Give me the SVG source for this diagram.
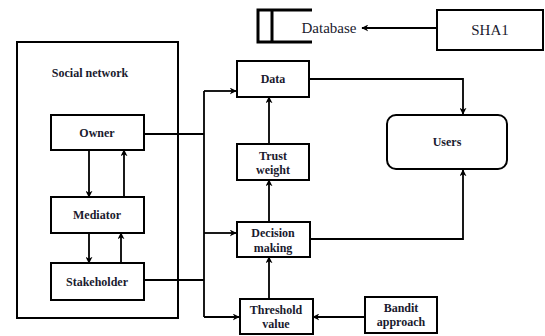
<svg xmlns="http://www.w3.org/2000/svg" width="545" height="336" viewBox="0 0 545 336">
<style>
.box{fill:#fff;stroke:#000;stroke-width:2}
.ln{fill:none;stroke:#000;stroke-width:1.8}
.t{font-family:"Liberation Serif","Times New Roman",serif;font-weight:bold;font-size:12px;fill:#1a1a2e;text-anchor:middle}
.n{font-family:"Liberation Serif","Times New Roman",serif;font-size:15px;fill:#1a1a2e;text-anchor:middle}
</style>
<defs>
<marker id="ah" viewBox="0 0 10 10" refX="9" refY="5" markerWidth="7" markerHeight="7" orient="auto" markerUnits="userSpaceOnUse">
<path d="M0,0 L10,5 L0,10 L3,5 Z" fill="#000"/>
</marker>
</defs>
<rect fill="#fff" width="545" height="336"/>
<g id="database">
<path d="M312,10 H258 V42 H312 M272,10 V42" fill="none" stroke="#000" stroke-width="3"/>
<text class="n" x="329" y="33">Database</text>
</g>
<g id="sha1">
<rect class="box" x="437" y="10" width="106" height="40"/>
<text class="n" x="490" y="35">SHA1</text>
</g>
<g id="social-network">
<rect class="box" x="17" y="42" width="161" height="276" fill="none"/>
<text class="t" x="90" y="77">Social network</text>
</g>
<g id="owner">
<rect class="box" x="51" y="115" width="93" height="35"/>
<text class="t" x="97" y="137">Owner</text>
</g>
<g id="mediator">
<rect class="box" x="51" y="197" width="93" height="36"/>
<text class="t" x="97" y="219">Mediator</text>
</g>
<g id="stakeholder">
<rect class="box" x="51" y="263" width="93" height="37"/>
<text class="t" x="97" y="286">Stakeholder</text>
</g>
<g id="data">
<rect class="box" x="237" y="61" width="72" height="36"/>
<text class="t" x="273" y="83">Data</text>
</g>
<g id="trust-weight">
<rect class="box" x="237" y="144" width="72" height="36"/>
<text class="t" x="273" y="160">Trust</text>
<text class="t" x="273" y="174">weight</text>
</g>
<g id="decision-making">
<rect class="box" x="237" y="222" width="73" height="35"/>
<text class="t" x="273" y="237">Decision</text>
<text class="t" x="273" y="252">making</text>
</g>
<g id="threshold-value">
<rect class="box" x="240" y="299" width="73" height="35"/>
<text class="t" x="276" y="314">Threshold</text>
<text class="t" x="276" y="328">value</text>
</g>
<g id="bandit-approach">
<rect class="box" x="365" y="297" width="72" height="36"/>
<text class="t" x="401" y="312">Bandit</text>
<text class="t" x="401" y="326">approach</text>
</g>
<g id="users">
<rect class="box" x="387" y="115" width="120" height="54" rx="9"/>
<text class="t" x="447" y="146">Users</text>
</g>
<g id="connectors">
<line class="ln" x1="437" y1="28" x2="362" y2="28" marker-end="url(#ah)"/>
<line class="ln" x1="89" y1="150" x2="89" y2="197" marker-end="url(#ah)"/>
<line class="ln" x1="124" y1="197" x2="124" y2="150" marker-end="url(#ah)"/>
<line class="ln" x1="89" y1="233" x2="89" y2="263" marker-end="url(#ah)"/>
<line class="ln" x1="121" y1="263" x2="121" y2="233" marker-end="url(#ah)"/>
<line class="ln" x1="144" y1="134" x2="204" y2="134"/>
<line class="ln" x1="144" y1="280" x2="204" y2="280"/>
<line class="ln" x1="204" y1="91" x2="204" y2="317"/>
<line class="ln" x1="204" y1="91" x2="236" y2="91" marker-end="url(#ah)"/>
<line class="ln" x1="204" y1="233" x2="236" y2="233" marker-end="url(#ah)"/>
<line class="ln" x1="204" y1="317" x2="239" y2="317" marker-end="url(#ah)"/>
<line class="ln" x1="269" y1="144" x2="269" y2="97" marker-end="url(#ah)"/>
<line class="ln" x1="269" y1="222" x2="269" y2="180" marker-end="url(#ah)"/>
<line class="ln" x1="269" y1="299" x2="269" y2="257" marker-end="url(#ah)"/>
<line class="ln" x1="365" y1="317" x2="313" y2="317" marker-end="url(#ah)"/>
<polyline class="ln" points="309,79 463,79 463,114" marker-end="url(#ah)"/>
<polyline class="ln" points="310,239 463,239 463,170" marker-end="url(#ah)"/>
</g>
</svg>
